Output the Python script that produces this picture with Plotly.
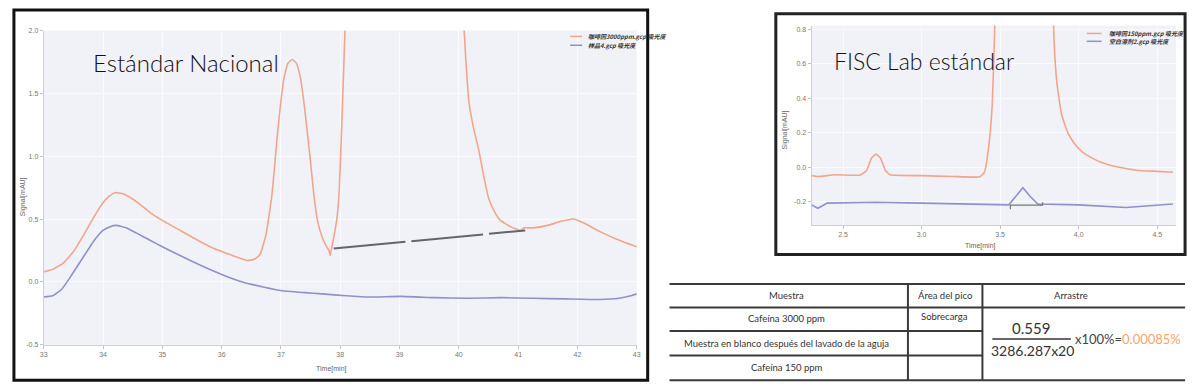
import plotly.graph_objects as go

W, H = 1200, 391

# ---------------- data: left panel (Estándar Nacional) ----------------
left_title = "Estándar Nacional"
left_orange_name = "咖啡因3000ppm.gcp 吸光度"
left_blue_name = "样品4.gcp 吸光度"
left_orange_t = [33.0, 33.15, 33.33, 33.5, 33.67, 33.85, 34.0, 34.1, 34.2, 34.35, 34.56, 34.8,
                 35.0, 35.3, 35.68, 35.9, 36.13, 36.3, 36.43, 36.55, 36.65, 36.75, 36.85, 36.95,
                 37.05, 37.12, 37.19, 37.26, 37.33, 37.4, 37.5, 37.56, 37.62, 37.7, 37.77, 37.81,
                 37.83, 37.86, 37.94, 37.98, 38.03, 38.08, 38.12, 38.2,
                 40.0, 40.05, 40.09, 40.13, 40.17, 40.25, 40.34, 40.42, 40.5, 40.6, 40.7, 40.87,
                 41.04, 41.1, 41.26, 41.5, 41.71, 41.93, 42.1, 42.38, 42.66, 43.0]
left_orange_v = [0.08, 0.10, 0.15, 0.24, 0.37, 0.52, 0.63, 0.68, 0.71, 0.70, 0.64, 0.55,
                 0.49, 0.41, 0.31, 0.26, 0.22, 0.19, 0.17, 0.18, 0.22, 0.38, 0.70, 1.22,
                 1.62, 1.74, 1.77, 1.74, 1.62, 1.38, 0.95, 0.67, 0.48, 0.35, 0.28, 0.25,
                 0.21, 0.28, 0.49, 0.70, 1.30, 2.0, 2.6, 6.0,
                 6.0, 2.6, 2.0, 1.68, 1.43, 1.22, 1.04, 0.84, 0.67, 0.56, 0.49, 0.44,
                 0.41, 0.43, 0.43, 0.45, 0.48, 0.50, 0.47, 0.40, 0.34, 0.28]
left_blue_t = [33.0, 33.15, 33.3, 33.45, 33.67, 33.85, 34.0, 34.12, 34.22, 34.4, 34.56, 34.8,
               35.0, 35.3, 35.68, 36.0, 36.35, 36.7, 37.02, 37.4, 37.69, 38.1, 38.48, 39.03,
               39.6, 40.15, 40.7, 41.26, 41.8, 42.38, 42.7, 42.9, 43.0]
left_blue_v = [-0.12, -0.11, -0.06, 0.04, 0.20, 0.33, 0.41, 0.44, 0.45, 0.43, 0.39, 0.33,
               0.28, 0.21, 0.125, 0.06, 0.0, -0.04, -0.07, -0.085, -0.095, -0.11, -0.12, -0.115,
               -0.125, -0.13, -0.125, -0.13, -0.135, -0.14, -0.13, -0.11, -0.095]
left_base_t = [37.89, 41.12]
left_base_v = [0.266, 0.41]
left_xticks = [33, 34, 35, 36, 37, 38, 39, 40, 41, 42, 43]
left_yticks = [-0.5, 0.0, 0.5, 1.0, 1.5, 2.0]
left_ytext = ["-0.5", "0.0", "0.5", "1.0", "1.5", "2.0"]

# ---------------- data: right panel (FISC Lab estándar) ----------------
right_title = "FISC Lab estándar"
right_orange_name = "咖啡因150ppm.gcp 吸光度"
right_blue_name = "空白溶剂2.gcp 吸光度"
right_orange_t = [2.30, 2.34, 2.45, 2.61, 2.65, 2.68, 2.71, 2.74, 2.77, 2.80, 3.0, 3.2, 3.37,
                  3.40, 3.43, 3.45, 3.465, 3.48, 3.5, 3.82, 3.84, 3.86, 3.89, 3.93, 3.97,
                  4.02, 4.08, 4.15, 4.25, 4.38, 4.5, 4.60]
right_orange_v = [-0.05, -0.055, -0.045, -0.046, -0.02, 0.05, 0.075, 0.05, -0.02, -0.045,
                  -0.05, -0.055, -0.057, -0.03, 0.14, 0.37, 0.79, 1.4, 3.0, 3.0, 0.82, 0.5,
                  0.31, 0.2, 0.14, 0.09, 0.055, 0.025, 0.0, -0.02, -0.025, -0.03]
right_blue_t = [2.30, 2.34, 2.40, 2.7, 3.0, 3.3, 3.555, 3.6, 3.645, 3.69, 3.74, 4.0, 4.3, 4.6]
right_blue_v = [-0.22, -0.24, -0.21, -0.205, -0.21, -0.215, -0.22, -0.17, -0.12, -0.17,
                -0.215, -0.22, -0.235, -0.215]
right_base_t = [3.565, 3.565, 3.77, 3.77]
right_base_v = [-0.245, -0.222, -0.222, -0.205]
right_xticks = [2.5, 3.0, 3.5, 4.0, 4.5]
right_xtext = ["2.5", "3.0", "3.5", "4.0", "4.5"]
right_yticks = [-0.2, 0.0, 0.2, 0.4, 0.6, 0.8]
right_ytext = ["-0.2", "0.0", "0.2", "0.4", "0.6", "0.8"]

# ---------------- data: table ----------------
table_header = ["Muestra", "Área del pico", "Arrastre"]
table_samples = ["Cafeína 3000 ppm", "Muestra en blanco después del lavado de la aguja", "Cafeína 150 ppm"]
table_areas = ["Sobrecarga", "", ""]
carry_numerator = "0.559"
carry_denominator = "3286.287x20"
carry_factor = "x100%="
carry_result = "0.00085%"

ORANGE = "#f2a58c"
BLUE = "#8f91c9"
TICKFONT = dict(family="Liberation Sans, Arial", size=7, color="#777777")


def px(x):
    return x / W


def py(y):
    return 1 - y / H


fig = go.Figure()

curve = dict(width=1.6, shape="spline", smoothing=0.4)
fig.add_trace(go.Scatter(x=left_orange_t, y=left_orange_v, mode="lines",
                         line=dict(color=ORANGE, **curve), name=left_orange_name,
                         xaxis="x", yaxis="y", showlegend=False))
fig.add_trace(go.Scatter(x=left_blue_t, y=left_blue_v, mode="lines",
                         line=dict(color=BLUE, **curve), name=left_blue_name,
                         xaxis="x", yaxis="y", showlegend=False))
fig.add_trace(go.Scatter(x=left_base_t, y=left_base_v, mode="lines",
                         line=dict(color="#666666", width=2, dash="72px,6px"),
                         xaxis="x", yaxis="y", showlegend=False))

fig.add_trace(go.Scatter(x=right_orange_t, y=right_orange_v, mode="lines",
                         line=dict(color=ORANGE, **curve), name=right_orange_name,
                         xaxis="x2", yaxis="y2", showlegend=False))
fig.add_trace(go.Scatter(x=right_blue_t, y=right_blue_v, mode="lines",
                         line=dict(color=BLUE, width=1.6), name=right_blue_name,
                         xaxis="x2", yaxis="y2", showlegend=False))
fig.add_trace(go.Scatter(x=right_base_t, y=right_base_v, mode="lines",
                         line=dict(color="#777777", width=1.2),
                         xaxis="x2", yaxis="y2", showlegend=False))

axis_common = dict(showline=True, linecolor="#cfcfd4", ticks="outside", ticklen=3,
                   tickcolor="#c0c0c6", gridcolor="#fbfbfe", gridwidth=1, zeroline=False,
                   tickfont=TICKFONT, fixedrange=True)

fig.update_layout(
    width=W, height=H, margin=dict(l=0, r=0, t=0, b=0),
    paper_bgcolor="white", plot_bgcolor="#f1f2f7",
    xaxis=dict(domain=[px(40), px(637)], range=[33, 43], tickvals=left_xticks,
               anchor="y", **axis_common),
    yaxis=dict(domain=[py(347), py(27)], range=[-0.5, 2.0], tickvals=left_yticks,
               ticktext=left_ytext, anchor="x", **axis_common),
    xaxis2=dict(domain=[px(813), px(1180)], range=[2.3, 4.62], tickvals=right_xticks,
                ticktext=right_xtext, anchor="y2", **axis_common),
    yaxis2=dict(domain=[py(225), py(22)], range=[-0.337, 0.823], tickvals=right_yticks,
                ticktext=right_ytext, anchor="x2", **axis_common),
)

shapes = []
ann = []

# panel frames
shapes.append(dict(type="rect", xref="paper", yref="paper", x0=px(10), x1=px(648),
                   y0=py(383), y1=py(6), line=dict(color="#111111", width=3)))
shapes.append(dict(type="rect", xref="paper", yref="paper", x0=px(777), x1=px(1189),
                   y0=py(255), y1=py(10), line=dict(color="#222222", width=3)))

# panel titles
ann.append(dict(text=left_title, x=px(88), y=py(60), xanchor="left", yanchor="middle",
                font=dict(family="Lato", size=24, color="#111111", weight=300)))
ann.append(dict(text=right_title, x=px(834), y=py(58), xanchor="left", yanchor="middle",
                font=dict(family="Lato", size=23, color="#111111", weight=300)))

# axis titles
ann.append(dict(text="Signal[mAU]", x=px(20), y=py(196), textangle=-90,
                font=dict(family="Liberation Sans", size=7, color="#666666")))
ann.append(dict(text="Time[min]", x=px(330), y=py(372),
                font=dict(family="Liberation Sans", size=7, color="#666666")))
ann.append(dict(text="Signal[mAU]", x=px(786), y=py(128), textangle=-90,
                font=dict(family="Liberation Sans", size=7, color="#666666")))
ann.append(dict(text="Time[min]", x=px(983), y=py(246),
                font=dict(family="Liberation Sans", size=7, color="#666666")))

# legends
legend_font = dict(family="Noto Sans CJK SC", size=6, color="#333333")
for (x0, x1, tx, y, name, col) in [
    (570, 582, 586, 33, left_orange_name, ORANGE),
    (570, 582, 586, 42, left_blue_name, BLUE),
    (1090, 1105, 1110, 30, right_orange_name, ORANGE),
    (1090, 1105, 1110, 38, right_blue_name, BLUE),
]:
    shapes.append(dict(type="line", xref="paper", yref="paper", x0=px(x0), x1=px(x1),
                       y0=py(y), y1=py(y), line=dict(color=col, width=1.5)))
    ann.append(dict(text="<b><i>" + name + "</i></b>", x=px(tx), y=py(y), xanchor="left",
                    yanchor="middle", font=legend_font))

# table lines
line_c = dict(color="#3a3a3a", width=2)
for (x0, x1, y) in [(670, 1189, 285), (670, 1189, 309), (670, 985, 333), (670, 985, 358),
                    (670, 1189, 383)]:
    shapes.append(dict(type="line", xref="paper", yref="paper", x0=px(x0), x1=px(x1),
                       y0=py(y), y1=py(y), line=line_c))
for x in [910, 985]:
    shapes.append(dict(type="line", xref="paper", yref="paper", x0=px(x), x1=px(x),
                       y0=py(285), y1=py(383), line=line_c))

tfont = dict(family="Lato", size=9.5, color="#333333")
col_cx = [788, 947, 1074]
for cx, txt in zip(col_cx, table_header):
    ann.append(dict(text=txt, x=px(cx), y=py(297), font=tfont))
row_cy = [320, 346, 370]
for cy, s, a in zip(row_cy, table_samples, table_areas):
    ann.append(dict(text=s, x=px(788), y=py(cy), font=tfont))
    if a:
        ann.append(dict(text=a, x=px(947), y=py(cy - 2), font=tfont))

# carry-over formula
ann.append(dict(text=carry_numerator, x=px(1034), y=py(330),
                font=dict(family="Lato", size=15, color="#333333")))
shapes.append(dict(type="line", xref="paper", yref="paper", x0=px(995), x1=px(1074),
                   y0=py(341), y1=py(341), line=dict(color="#333333", width=1.5)))
ann.append(dict(text=carry_denominator, x=px(1035), y=py(353),
                font=dict(family="Lato", size=14, color="#333333")))
ann.append(dict(text=carry_factor + "<span style='color:#f5a46c'>" + carry_result + "</span>",
                x=px(1076), y=py(341), xanchor="left",
                font=dict(family="Lato", size=13, color="#444444")))

for a in ann:
    a.setdefault("xref", "paper")
    a.setdefault("yref", "paper")
    a.setdefault("showarrow", False)
    a.setdefault("xanchor", "center")
    a.setdefault("yanchor", "middle")

fig.update_layout(shapes=shapes, annotations=ann)

fig.write_html("out.html", config={"displayModeBar": False},
               post_script="document.body.style.margin='0';document.body.style.padding='0';")
